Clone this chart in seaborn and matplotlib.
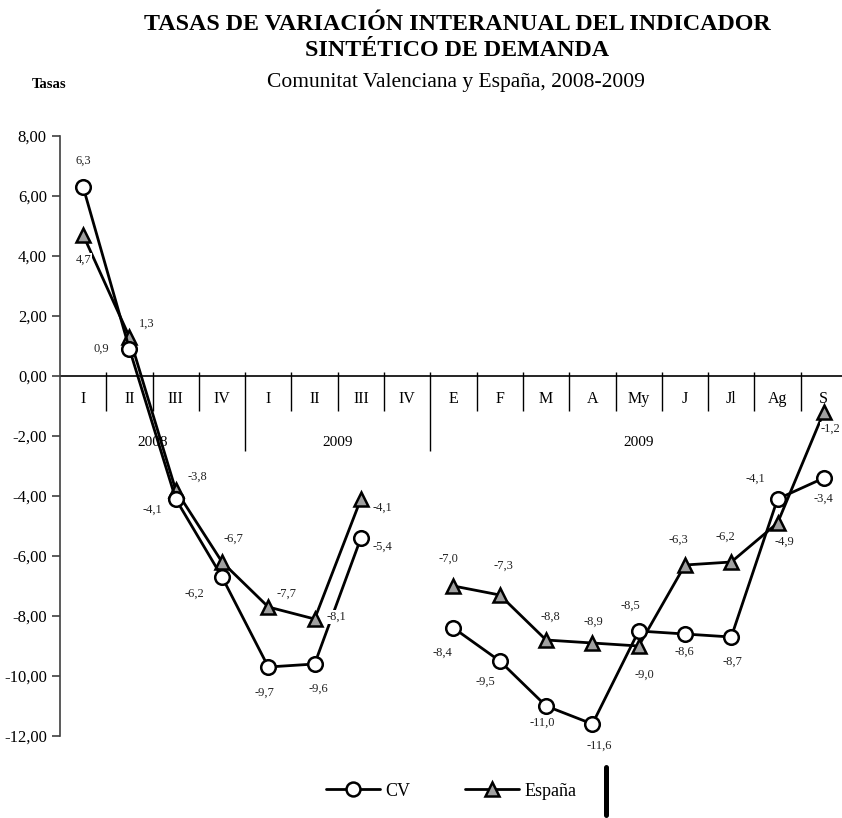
import numpy as np
import pandas as pd
import matplotlib.pyplot as plt
import seaborn as sns
from matplotlib.lines import Line2D

sns.set_style("white")
plt.rcParams['font.family'] = ['Liberation Serif', 'DejaVu Serif']
plt.rcParams['text.color'] = 'black'
plt.rcParams['ytick.color'] = 'black'
plt.rcParams['xtick.color'] = 'black'

# Datos: trimestres 2008-2009 y meses de 2009
periodos = ["I", "II", "III", "IV", "I", "II", "III", "IV",
            "E", "F", "M", "A", "My", "J", "Jl", "Ag", "S"]
tramo = ["trim"] * 8 + ["mes"] * 9
cv = [6.3, 0.9, -4.1, -6.7, -9.7, -9.6, -5.4, np.nan,
      -8.4, -9.5, -11.0, -11.6, -8.5, -8.6, -8.7, -4.1, -3.4]
espana = [4.7, 1.3, -3.8, -6.2, -7.7, -8.1, -4.1, np.nan,
          -7.0, -7.3, -8.8, -8.9, -9.0, -6.3, -6.2, -4.9, -1.2]
grupos = ["2008", "2009", "2009"]
grupo_limites = [(-0.5, 3.5), (3.5, 7.5), (7.5, 16.5)]
yticks = [8, 6, 4, 2, 0, -2, -4, -6, -8, -10, -12]

# desplazamiento de las etiquetas de datos (pixeles, dx, dy hacia abajo)
cv_off = [(0, -26), (-28, 0), (-23, 11), (11, -38), (-4, 26), (4, 25), (21, 9), None,
          (-11, 25), (-14, 21), (-4, 17), (7, 22), (-8, -25), (-1, 18), (1, 25), (-22, -20), (0, 21)]
esp_off = [(0, 25), (17, -13), (22, -13), (-28, 32), (18, -13), (22, -2), (21, 9), None,
           (-5, -27), (4, -29), (4, -23), (1, -21), (6, 29), (-7, -25), (-6, -25), (7, 19), (7, 17)]

df = pd.DataFrame({"pos": range(len(periodos)), "periodo": periodos, "tramo": tramo,
                   "CV": cv, "España": espana})
long = df.melt(id_vars=["pos", "periodo", "tramo"], value_vars=["CV", "España"],
               var_name="serie", value_name="valor")

fig = plt.figure(figsize=(8.42, 8.18), dpi=100)
ax = fig.add_axes([60 / 842, 82 / 818, 787 / 842, 600 / 818])

estilos = {
    "CV": dict(marker="o", markerfacecolor="white"),
    "España": dict(marker="^", markerfacecolor="#a0a0a0"),
}
for serie in ["España", "CV"]:
    sns.lineplot(data=long[long["serie"] == serie], x="pos", y="valor", units="tramo",
                 estimator=None, color="black", lw=2, markersize=10.5,
                 markeredgecolor="black", markeredgewidth=1.8, ax=ax, legend=False,
                 zorder=3, **estilos[serie])

# etiquetas de datos
for vals, offs in [(cv, cv_off), (espana, esp_off)]:
    for i, (v, off) in enumerate(zip(vals, offs)):
        if off is None or np.isnan(v):
            continue
        ax.annotate(f"{v:.1f}".replace(".", ","), xy=(i, v), xytext=(off[0], -off[1]),
                    textcoords="offset pixels", ha="center", va="center", fontsize=9,
                    color="#222222", zorder=6,
                    bbox=dict(boxstyle="square,pad=0.1", fc="white", ec="none"))

ax.set_xlim(-0.5, 16.5)
ax.set_ylim(-12, 8)
ax.set_yticks(yticks)
ax.set_yticklabels([f"{t:.2f}".replace(".", ",") for t in yticks], fontsize=12)
ax.set_xticks([])
ax.set_xlabel("")
ax.set_ylabel("")
ax.tick_params(axis="y", direction="out", length=6, width=1.2, color="#404040", left=True)
for s in ["top", "right", "bottom"]:
    ax.spines[s].set_visible(False)
ax.spines["left"].set_color("#404040")
ax.spines["left"].set_linewidth(1.2)

# eje de categorías en y = 0
ax.axhline(0, color="black", lw=1.2, zorder=2)
for i, p in enumerate(periodos):
    ax.text(i, -0.77, p, ha="center", va="center", fontsize=11.5, zorder=1)
for b in np.arange(0.5, 16, 1):
    if b in (3.5, 7.5):
        continue
    ax.vlines(b, -1.17, 0.13, color="black", lw=1, zorder=1)
for (a, b), g in zip(grupo_limites, grupos):
    ax.text((a + b) / 2, -2.23, g, ha="center", va="center", fontsize=11, zorder=1)
for b in (3.5, 7.5):
    ax.vlines(b, -2.5, 0.13, color="black", lw=1, zorder=1)

# títulos
fig.text(0.543, 1 - 24 / 818, "TASAS DE VARIACIÓN INTERANUAL DEL INDICADOR",
         ha="center", va="center", fontsize=17.3, fontweight="bold")
fig.text(0.543, 1 - 50 / 818, "SINTÉTICO DE DEMANDA",
         ha="center", va="center", fontsize=17.3, fontweight="bold")
fig.text(0.541, 1 - 83 / 818, "Comunitat Valenciana y España, 2008-2009",
         ha="center", va="center", fontsize=15.5)
fig.text(49 / 842, 1 - 84 / 818, "Tasas", ha="center", va="center",
         fontsize=10.5, fontweight="bold")

# leyenda
handles = [Line2D([], [], color="black", lw=2, marker="o", ms=10, mfc="white",
                  mec="black", mew=1.8),
           Line2D([], [], color="black", lw=2, marker="^", ms=10, mfc="#a0a0a0",
                  mec="black", mew=1.8)]
fig.legend(handles, ["CV", "España"], loc="center", bbox_to_anchor=(451 / 842, 1 - 791 / 818),
           ncol=2, frameon=False, fontsize=13, handlelength=3, handletextpad=0.3,
           columnspacing=3.0)

# barra vertical bajo la leyenda
fig.add_artist(Line2D([606 / 842, 606 / 842], [1 - 767 / 818, 1 - 815 / 818],
                      color="black", lw=3.6))

fig.savefig("out.png", dpi=100)
